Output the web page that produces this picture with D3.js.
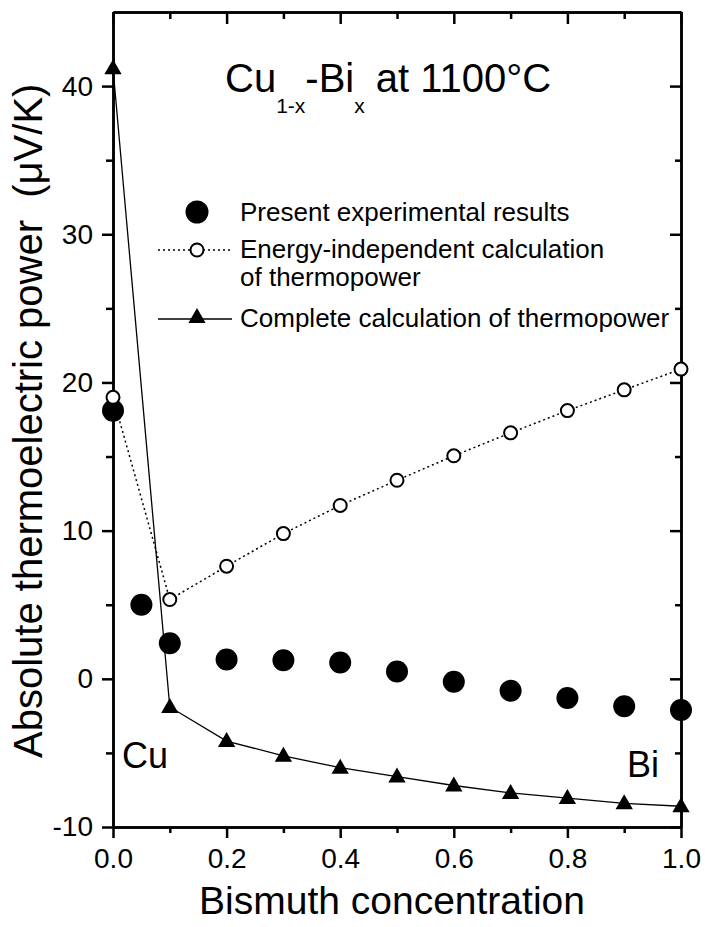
<!DOCTYPE html>
<html>
<head>
<meta charset="utf-8">
<script src="https://cdn.jsdelivr.net/npm/d3@7"></script>
<style>
  body { margin: 0; background: #fff; }
  svg { display: block; font-family: "Liberation Sans", Arial, sans-serif; }
  .axis path, .axis line { stroke: #000; stroke-width: 2.5; }
  .axis text { font-size: 28px; fill: #000; font-family: "Liberation Sans", Arial, sans-serif; }
</style>
</head>
<body>
<div id="chart"></div>
<script>
// concentration of bismuth
const calcX = [0, 0.1, 0.2, 0.3, 0.4, 0.5, 0.6, 0.7, 0.8, 0.9, 1.0]
const expX = [0, 0.05, 0.1, 0.2, 0.3, 0.4, 0.5, 0.6, 0.7, 0.8, 0.9, 1.0]
// thermopower values, uV/K
const expValues = [18.1, 5.0, 2.4, 1.3, 1.25, 1.1, 0.5, -0.2, -0.8, -1.3, -1.85, -2.1]
const energyIndepValues = [19.0, 5.35, 7.6, 9.8, 11.7, 13.4, 15.05, 16.6, 18.1, 19.5, 20.9]
const completeValues = [41.2, -1.9, -4.2, -5.2, -6.0, -6.6, -7.2, -7.7, -8.05, -8.4, -8.6]

const xMajor = [0, 0.2, 0.4, 0.6, 0.8, 1.0]
const xMinor = [0.1, 0.3, 0.5, 0.7, 0.9]
const yMajor = [-10, 0, 10, 20, 30, 40]
const yMinor = [-5, 5, 15, 25, 35]

const legendLabels = [
    "Present experimental results",
    "Energy-independent calculation",
    "of thermopower",
    "Complete calculation of thermopower"
]

const margin = { top: 12, right: 24, bottom: 100, left: 113 }
const width = 705 - margin.left - margin.right,
    height = 927 - margin.top - margin.bottom;

const svg = d3.select("#chart")
    .append("svg")
    .attr("width", 705)
    .attr("height", 927)

const g = svg.append("g")
    .attr("transform", "translate(" + margin.left + "," + margin.top + ")")

const x = d3.scaleLinear().domain([0, 1]).range([0, width])
const y = d3.scaleLinear().domain([-10, 45]).range([height, 0])

// axes: outward ticks on left/bottom, inward on top/right
g.append("g").attr("class", "axis")
    .attr("transform", "translate(0," + height + ")")
    .call(d3.axisBottom(x).tickValues(xMajor).tickSize(11).tickSizeOuter(0).tickPadding(10).tickFormat(d3.format(".1f")))
g.append("g").attr("class", "axis")
    .attr("transform", "translate(0," + height + ")")
    .call(d3.axisBottom(x).tickValues(xMinor).tickSize(6).tickSizeOuter(0).tickFormat(""))

g.append("g").attr("class", "axis")
    .call(d3.axisLeft(y).tickValues(yMajor).tickSize(11).tickSizeOuter(0).tickPadding(9).tickFormat(d => String(d)))
g.append("g").attr("class", "axis")
    .call(d3.axisLeft(y).tickValues(yMinor).tickSize(7).tickSizeOuter(0).tickFormat(""))

g.append("g").attr("class", "axis")
    .call(d3.axisBottom(x).tickValues(xMajor).tickSize(12).tickSizeOuter(0).tickFormat(""))
g.append("g").attr("class", "axis")
    .call(d3.axisBottom(x).tickValues(xMinor).tickSize(7).tickSizeOuter(0).tickFormat(""))

g.append("g").attr("class", "axis")
    .attr("transform", "translate(" + width + ",0)")
    .call(d3.axisLeft(y).tickValues(yMajor).tickSize(11).tickSizeOuter(0).tickFormat(""))
g.append("g").attr("class", "axis")
    .attr("transform", "translate(" + width + ",0)")
    .call(d3.axisLeft(y).tickValues(yMinor).tickSize(6).tickSizeOuter(0).tickFormat(""))

const expData = expX.map((d, i) => ({ x: d, v: expValues[i] }))
const indepData = calcX.map((d, i) => ({ x: d, v: energyIndepValues[i] }))
const completeData = calcX.map((d, i) => ({ x: d, v: completeValues[i] }))

const line = d3.line()
    .x(d => x(d.x))
    .y(d => y(d.v))

g.append("path")
    .datum(indepData)
    .attr("fill", "none")
    .attr("stroke", "#000")
    .attr("stroke-width", 1.5)
    .attr("stroke-dasharray", "2,3")
    .attr("d", line)

g.append("path")
    .datum(completeData)
    .attr("fill", "none")
    .attr("stroke", "#000")
    .attr("stroke-width", 1.3)
    .attr("d", line)

const triangle = d3.symbol().type(d3.symbolTriangle).size(130)

g.selectAll(".exp")
    .data(expData)
    .enter().append("circle")
    .attr("cx", d => x(d.x))
    .attr("cy", d => y(d.v))
    .attr("r", 11)
    .attr("fill", "#000")

g.selectAll(".indep")
    .data(indepData)
    .enter().append("circle")
    .attr("cx", d => x(d.x))
    .attr("cy", d => y(d.v))
    .attr("r", 6.5)
    .attr("fill", "#fff")
    .attr("stroke", "#000")
    .attr("stroke-width", 2)

g.selectAll(".tri")
    .data(completeData)
    .enter().append("path")
    .attr("d", triangle)
    .attr("transform", d => "translate(" + x(d.x) + "," + (y(d.v) + 1) + ")")
    .attr("fill", "#000")

// legend
const legend = svg.append("g").style("font-size", "26px")
legend.append("circle").attr("cx", 197).attr("cy", 212).attr("r", 11.5).attr("fill", "#000")
legend.append("line").attr("x1", 158).attr("x2", 232).attr("y1", 250).attr("y2", 250)
    .attr("stroke", "#000").attr("stroke-width", 1.5).attr("stroke-dasharray", "2,3")
legend.append("circle").attr("cx", 197).attr("cy", 250).attr("r", 6.5)
    .attr("fill", "#fff").attr("stroke", "#000").attr("stroke-width", 2)
legend.append("line").attr("x1", 158).attr("x2", 232).attr("y1", 319).attr("y2", 319)
    .attr("stroke", "#000").attr("stroke-width", 1.3)
legend.append("path").attr("d", triangle).attr("transform", "translate(197,318)").attr("fill", "#000")

const legendY = [221, 258, 286, 327]
legend.selectAll("text")
    .data(legendLabels)
    .enter().append("text")
    .attr("x", 240)
    .attr("y", (d, i) => legendY[i])
    .text(d => d)

// title with subscripts
const title = svg.append("text")
    .attr("x", 225)
    .attr("y", 92)
    .style("font-size", "40px")
title.append("tspan").text("Cu")
title.append("tspan").attr("dy", 21).style("font-size", "21px").text("1-x")
title.append("tspan").attr("dy", -21).text("-Bi")
title.append("tspan").attr("dy", 21).style("font-size", "21px").text("x")
title.append("tspan").attr("dy", -21).text(" at 1100\u00b0C")

// element labels
svg.append("text").attr("x", 122).attr("y", 768).style("font-size", "36px").text("Cu")
svg.append("text").attr("x", 627).attr("y", 777).style("font-size", "36px").text("Bi")

// axis titles
svg.append("text")
    .attr("x", 392)
    .attr("y", 914)
    .attr("text-anchor", "middle")
    .style("font-size", "39px")
    .text("Bismuth concentration")

svg.append("text")
    .attr("transform", "translate(42,758) rotate(-90)")
    .style("font-size", "40px")
    .text("Absolute thermoelectric power\u00a0 (\u03bcV/K)")
</script>
</body>
</html>
